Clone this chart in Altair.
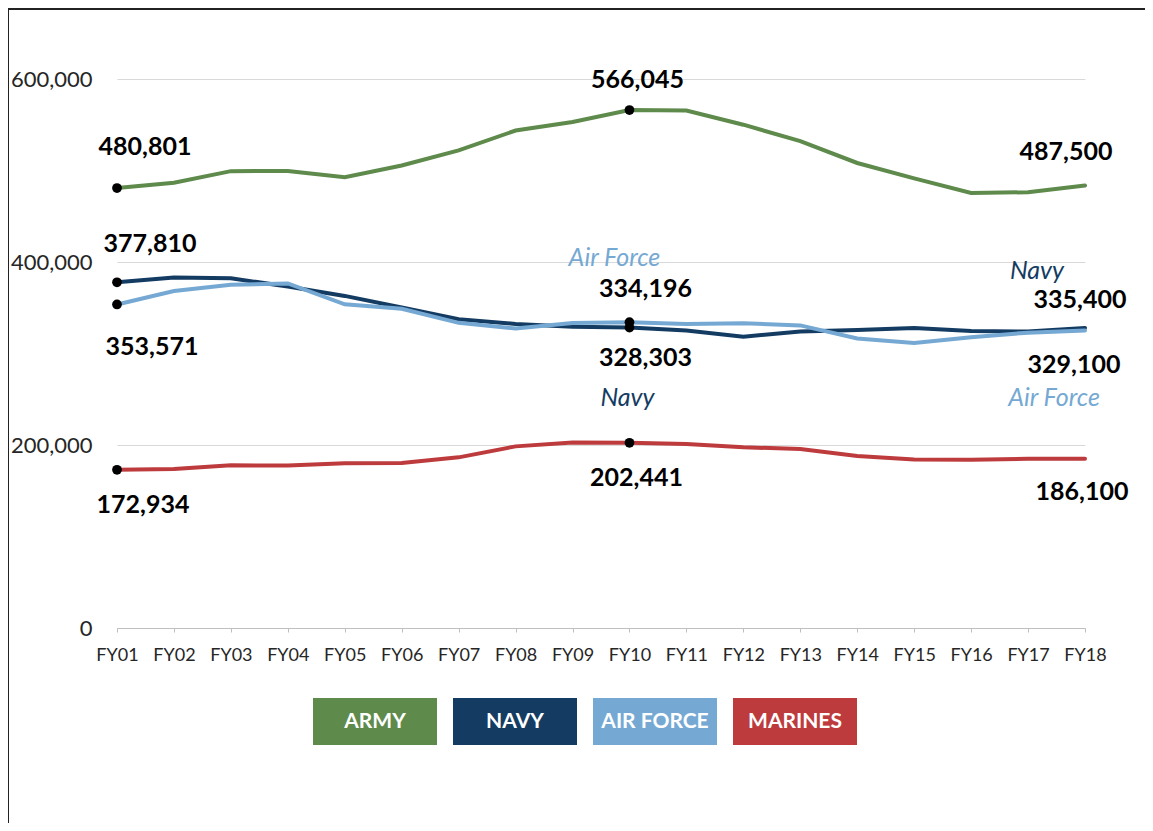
import altair as alt
import pandas as pd

# ---------------- data ----------------
years = ["FY01", "FY02", "FY03", "FY04", "FY05", "FY06", "FY07", "FY08", "FY09",
         "FY10", "FY11", "FY12", "FY13", "FY14", "FY15", "FY16", "FY17", "FY18"]

army = [480801, 486542, 499301, 499543, 492728, 505402, 522017, 543645, 553044,
        566045, 565463, 550064, 532043, 508210, 491365, 475400, 476245, 483500]
navy = [377810, 383108, 382235, 373197, 362941, 350197, 337547, 332228, 329304,
        328303, 325123, 318406, 323951, 325573, 327862, 324557, 323944, 327900]
air_force = [353571, 368251, 375062, 376616, 353696, 348953, 333495, 327379, 333408,
             334196, 332200, 332959, 330696, 316476, 311357, 317883, 322787, 325100]
marines = [172934, 173733, 177779, 177480, 180029, 180416, 186492, 198505, 202786,
           202441, 201157, 197512, 195657, 187891, 184029, 184000, 185000, 185000]

series_names = ["Army", "Navy", "Air Force", "Marines"]
legend_labels = ["ARMY", "NAVY", "AIR FORCE", "MARINES"]
y_ticks = [0, 200000, 400000, 600000]

# highlighted points (black dots)
dot_series = ["Army", "Navy", "Air Force", "Marines", "Army", "Navy", "Air Force", "Marines"]
dot_years = ["FY01", "FY01", "FY01", "FY01", "FY10", "FY10", "FY10", "FY10"]

# value annotations
label_series = ["Army", "Army", "Army", "Navy", "Air Force", "Air Force", "Navy",
                "Navy", "Air Force", "Marines", "Marines", "Marines"]
label_years = ["FY01", "FY10", "FY18", "FY01", "FY01", "FY10", "FY10",
               "FY18", "FY18", "FY01", "FY10", "FY18"]
label_texts = ["480,801", "566,045", "487,500", "377,810", "353,571", "334,196", "328,303",
               "335,400", "329,100", "172,934", "202,441", "186,100"]

# series name annotations
name_series = ["Air Force", "Navy", "Navy", "Air Force"]
name_years = ["FY10", "FY10", "FY18", "FY18"]

# ---------------- styling / layout ----------------
colors = ["#5e8a4c", "#143c63", "#75a9d3", "#bd3b3c"]
FONT = "Lato"
label_offsets = [(28, -41), (8, -30), (-19, -34), (33, -38), (35, 43), (16, -33), (16, 30),
                 (-5, -28), (-11, 34), (26, 35), (7, 35), (-3, 33)]
name_offsets = [(-15, -64), (-2, 70), (-48, -57), (-31, 67)]

W, H = 968, 549
PAD = {"left": 109, "top": 71, "right": 60, "bottom": 195}

values_by_series = dict(zip(series_names, [army, navy, air_force, marines]))
rows = []
for s in series_names:
    for yr, v in zip(years, values_by_series[s]):
        rows.append({"series": s, "year": yr, "value": v})
df = pd.DataFrame(rows)


def lookup(s, yr):
    return values_by_series[s][years.index(yr)]


X = alt.X("year:N", sort=years,
          scale=alt.Scale(type="point", padding=0, domain=years),
          axis=alt.Axis(title="", labelAngle=0, labelFontSize=18, labelColor="#262626",
                        labelFont=FONT, domainColor="#bfbfbf", tickColor="#bfbfbf",
                        tickSize=4, labelPadding=14, grid=False))
Y = alt.Y("value:Q",
          scale=alt.Scale(domain=[0, 600000], nice=False, zero=True),
          axis=alt.Axis(title="", values=y_ticks, format=",d", labelFontSize=22,
                        labelColor="#262626", labelFont=FONT, labelPadding=25,
                        ticks=False, domain=False, gridColor="#d9d9d9", gridWidth=1))
COLOR = alt.Color("series:N", scale=alt.Scale(domain=series_names, range=colors), legend=None)

lines = alt.Chart(df).mark_line(strokeWidth=4, strokeCap="round").encode(
    x=X, y=Y, color=COLOR)

dots_df = pd.DataFrame({"series": dot_series, "year": dot_years,
                        "value": [lookup(s, y) for s, y in zip(dot_series, dot_years)]})
dots = alt.Chart(dots_df).mark_circle(size=95, color="black", opacity=1).encode(x=X, y=Y)

layers = [lines, dots]

for s, yr, t, (dx, dy) in zip(label_series, label_years, label_texts, label_offsets):
    d = pd.DataFrame({"series": [s], "year": [yr], "value": [lookup(s, yr)], "label": [t]})
    layers.append(
        alt.Chart(d).mark_text(font=FONT, fontSize=25, fontWeight="bold", color="black",
                               align="center", baseline="middle", dx=dx, dy=dy)
        .encode(x=X, y=Y, text="label:N"))

for s, yr, (dx, dy) in zip(name_series, name_years, name_offsets):
    d = pd.DataFrame({"series": [s], "year": [yr], "value": [lookup(s, yr)], "label": [s]})
    layers.append(
        alt.Chart(d).mark_text(font=FONT, fontSize=25, fontStyle="italic",
                               align="center", baseline="middle", dx=dx, dy=dy)
        .encode(x=X, y=Y, text="label:N", color=COLOR))

# legend boxes (own band scale)
leg_df = pd.DataFrame({"series": series_names, "label": legend_labels})
LX = alt.X("series:N", sort=series_names,
           scale=alt.Scale(domain=series_names, range=[196, 740],
                           paddingInner=0.1143, paddingOuter=0),
           axis=None)
leg_boxes = alt.Chart(leg_df).mark_rect().encode(
    x=LX, y=alt.value(H + 70), y2=alt.value(H + 117), color=COLOR)
leg_text = alt.Chart(leg_df).mark_text(font=FONT, fontSize=21, fontWeight="bold",
                                       color="white", align="center", baseline="middle").encode(
    x=LX, y=alt.value(H + 93.5), text="label:N")
legend = alt.layer(leg_boxes, leg_text)

# frame lines (top and left)
frame_top = alt.Chart(pd.DataFrame({"a": [0]})).mark_rule(color="#222", strokeWidth=2).encode(
    x=alt.value(-PAD["left"]), x2=alt.value(W + PAD["right"]), y=alt.value(-PAD["top"] + 1))
frame_left = alt.Chart(pd.DataFrame({"a": [0]})).mark_rule(color="#222", strokeWidth=1).encode(
    x=alt.value(-PAD["left"] + 0.5), y=alt.value(-PAD["top"]), y2=alt.value(H + PAD["bottom"]))

main = alt.layer(*layers)
chart = alt.layer(main, legend, frame_top, frame_left).resolve_scale(x="independent").properties(
    width=W, height=H,
    autosize=alt.AutoSizeParams(type="none"),
    padding=PAD,
    background="white",
).configure_view(stroke=None)

chart.save("out.html", embed_options={"renderer": "svg", "actions": False})
